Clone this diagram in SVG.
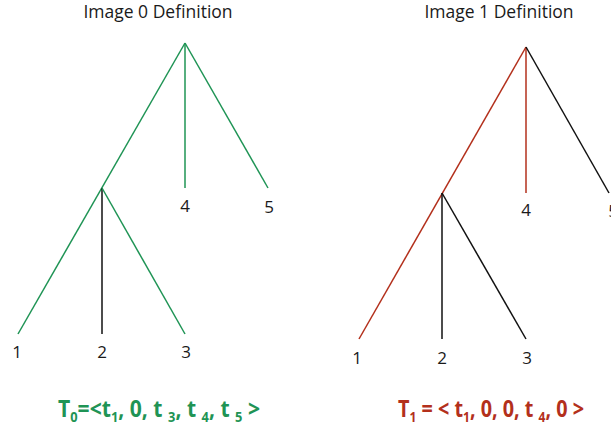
<svg xmlns="http://www.w3.org/2000/svg" width="611" height="431" viewBox="0 0 611 431">
<style>
.t{font-family:"Open Sans","Liberation Sans",sans-serif;font-size:17.5px;fill:#1a1a1a}
.lbl{font-family:"Open Sans","Liberation Sans",sans-serif;font-size:17px;fill:#1a1a1a;text-anchor:middle}
.g{stroke:#1f9455;stroke-width:1.5;fill:none}
.r{stroke:#b3301c;stroke-width:1.5;fill:none}
.k{stroke:#111;stroke-width:1.5;fill:none}
.f{font-family:"Open Sans","Liberation Sans",sans-serif;font-size:23px;font-weight:bold}
.s{font-size:14px}
</style>
<rect width="611" height="431" fill="#fff"/>
<text class="t" x="158" y="18" text-anchor="middle">Image 0 Definition</text>
<text class="t" x="499" y="18" text-anchor="middle">Image 1 Definition</text>
<g id="connectors">
<line class="g" x1="185" y1="43" x2="18" y2="334"/>
<line class="g" x1="185" y1="43" x2="185" y2="188"/>
<line class="g" x1="185" y1="43" x2="268" y2="188"/>
<line class="k" x1="102" y1="188" x2="102" y2="334"/>
<line class="g" x1="102" y1="188" x2="185" y2="334"/>
<line class="r" x1="526" y1="47" x2="359" y2="339"/>
<line class="r" x1="526" y1="47" x2="526" y2="193"/>
<line class="k" x1="526" y1="47" x2="609" y2="193"/>
<line class="k" x1="442" y1="193" x2="442" y2="339"/>
<line class="k" x1="442" y1="193" x2="526" y2="339"/>
</g>
<g id="n0-4"><text class="lbl" x="185" y="212">4</text></g>
<g id="n0-5"><text class="lbl" x="269" y="213">5</text></g>
<g id="n0-1"><text class="lbl" x="17" y="358">1</text></g>
<g id="n0-2"><text class="lbl" x="102" y="358">2</text></g>
<g id="n0-3"><text class="lbl" x="186" y="358">3</text></g>
<g id="n1-4"><text class="lbl" x="526" y="216">4</text></g>
<g id="n1-5"><text class="lbl" x="613" y="217">5</text></g>
<g id="n1-1"><text class="lbl" x="357" y="364">1</text></g>
<g id="n1-2"><text class="lbl" x="442" y="364">2</text></g>
<g id="n1-3"><text class="lbl" x="527" y="364">3</text></g>
<g id="formula0"><text class="f" x="58" y="417" fill="#1f9455" textLength="202" lengthAdjust="spacingAndGlyphs">T<tspan class="s" dy="5">0</tspan><tspan dy="-5">=&lt;t</tspan><tspan class="s" dy="5">1</tspan><tspan dy="-5">, 0,  t </tspan><tspan class="s" dy="5">3</tspan><tspan dy="-5">, t </tspan><tspan class="s" dy="5">4</tspan><tspan dy="-5">, t </tspan><tspan class="s" dy="5">5</tspan><tspan dy="-5"> &gt;</tspan></text></g>
<g id="formula1"><text class="f" x="398" y="417" fill="#b3301c" textLength="186" lengthAdjust="spacingAndGlyphs">T<tspan class="s" dy="5">1</tspan><tspan dy="-5"> = &lt; t</tspan><tspan class="s" dy="5">1</tspan><tspan dy="-5">, 0, 0, t </tspan><tspan class="s" dy="5">4</tspan><tspan dy="-5">, 0 &gt;</tspan></text></g>
</svg>
